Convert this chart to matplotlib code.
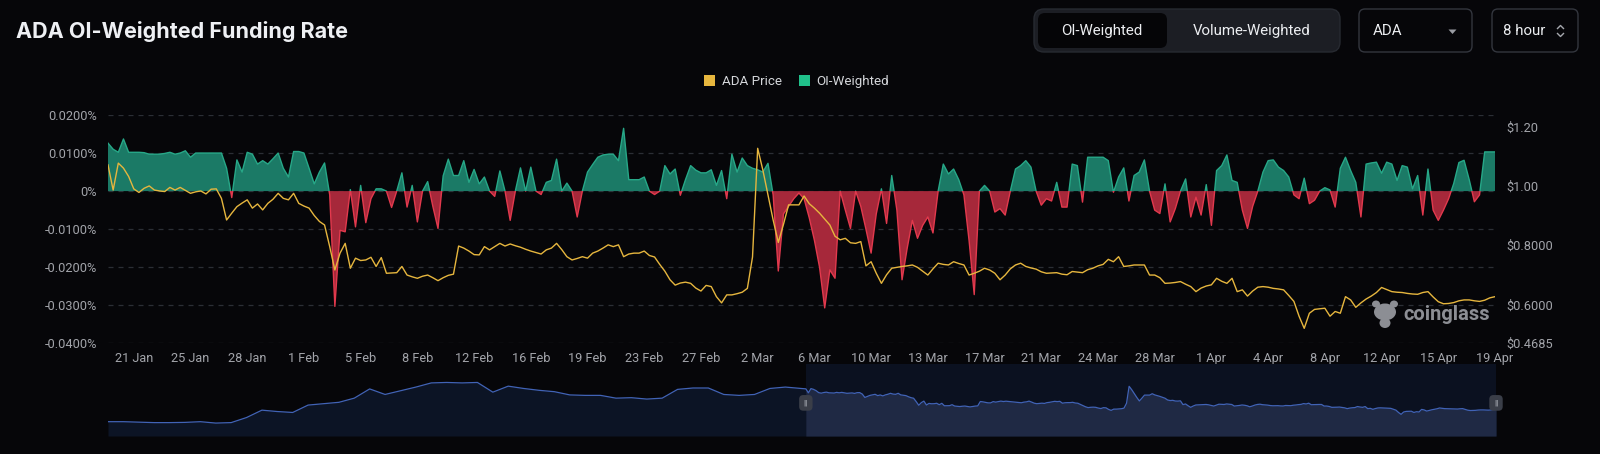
import matplotlib
matplotlib.use('Agg')
import matplotlib.pyplot as plt
from matplotlib.patches import Patch, FancyBboxPatch, Rectangle, Ellipse, Polygon
from matplotlib.lines import Line2D
from matplotlib.transforms import blended_transform_factory
import numpy as np
import pandas as pd

plt.rcParams['font.family'] = ['Roboto', 'DejaVu Sans']

# ---- data (8h funding, OI-weighted, in %; ADA price in $) ----
funding = [
    0.0126, 0.0110, 0.0102, 0.0137, 0.0102, 0.0102, 0.0102, 0.0101, 0.0097, 0.0097,
    0.0097, 0.0099, 0.0102, 0.0097, 0.0100, 0.0106, 0.0089, 0.0100, 0.0100, 0.0100,
    0.0100, 0.0100, 0.0100, 0.0060, -0.0017, 0.0082, 0.0050, 0.0102, 0.0097, 0.0071,
    0.0080, 0.0071, 0.0085, 0.0100, 0.0060, 0.0037, 0.0104, 0.0104, 0.0100, 0.0060,
    0.0019, 0.0050, 0.0074, -0.0010, -0.0303, -0.0103, -0.0107, 0.0004, -0.0094, 0.0015,
    -0.0083, -0.0020, 0.0006, 0.0006, 0.0000, -0.0043, 0.0000, 0.0048, -0.0042, 0.0015,
    -0.0081, 0.0000, 0.0025, -0.0040, -0.0098, 0.0040, 0.0084, 0.0041, 0.0041, 0.0080,
    0.0023, 0.0057, 0.0019, 0.0037, 0.0000, -0.0014, 0.0053, 0.0000, -0.0077, 0.0000,
    0.0061, 0.0000, 0.0063, 0.0000, -0.0009, 0.0023, 0.0028, 0.0084, 0.0000, 0.0021,
    0.0000, -0.0068, 0.0000, 0.0050, 0.0070, 0.0089, 0.0095, 0.0097, 0.0097, 0.0080,
    0.0165, 0.0030, 0.0030, 0.0030, 0.0037, 0.0000, -0.0009, 0.0000, 0.0067, 0.0045,
    0.0058, -0.0011, 0.0030, 0.0067, 0.0055, 0.0048, 0.0048, 0.0056, 0.0015, 0.0054,
    -0.0020, 0.0097, 0.0050, 0.0087, 0.0067, 0.0060, 0.0056, 0.0050, 0.0073, -0.0010,
    -0.0210, -0.0060, -0.0040, -0.0020, -0.0005, -0.0020, -0.0070, -0.0129, -0.0200, -0.0307,
    -0.0207, -0.0229, 0.0000, -0.0050, -0.0098, 0.0000, -0.0040, -0.0100, -0.0163, -0.0060,
    0.0006, -0.0085, 0.0041, -0.0050, -0.0233, -0.0150, -0.0077, -0.0124, -0.0090, -0.0068,
    -0.0110, 0.0000, 0.0071, 0.0045, 0.0058, 0.0030, -0.0010, -0.0130, -0.0272, 0.0000,
    0.0015, 0.0000, -0.0055, -0.0046, -0.0063, 0.0000, 0.0058, 0.0067, 0.0080, 0.0063,
    0.0000, -0.0037, -0.0020, -0.0026, 0.0023, -0.0042, -0.0042, 0.0071, 0.0067, -0.0029,
    0.0089, 0.0089, 0.0089, 0.0089, 0.0080, -0.0003, 0.0037, 0.0061, -0.0026, 0.0041,
    0.0050, 0.0082, 0.0000, -0.0050, -0.0059, 0.0019, -0.0081, -0.0046, 0.0000, 0.0032,
    -0.0068, -0.0016, -0.0063, 0.0017, -0.0090, 0.0054, 0.0067, 0.0095, 0.0028, 0.0023,
    -0.0050, -0.0098, -0.0040, 0.0000, 0.0050, 0.0080, 0.0082, 0.0063, 0.0054, 0.0037,
    -0.0010, -0.0020, 0.0034, -0.0033, -0.0024, 0.0000, 0.0009, 0.0003, -0.0042, 0.0060,
    0.0089, 0.0054, 0.0023, -0.0068, 0.0071, 0.0074, 0.0076, 0.0047, 0.0076, 0.0071,
    0.0028, 0.0067, 0.0063, 0.0006, 0.0041, -0.0063, 0.0058, -0.0050, -0.0077, -0.0050,
    -0.0020, 0.0020, 0.0075, 0.0081, 0.0030, -0.0028, -0.0010, 0.0103, 0.0103, 0.0103,
]

price = [
    1.071, 0.986, 1.077, 1.060, 1.032, 0.990, 0.978, 0.992, 1.000, 0.986,
    0.983, 0.981, 0.995, 0.986, 0.995, 0.985, 0.975, 0.980, 0.983, 0.973,
    0.989, 0.990, 0.958, 0.885, 0.908, 0.930, 0.942, 0.953, 0.925, 0.939,
    0.919, 0.941, 0.955, 0.975, 0.958, 0.953, 0.975, 0.941, 0.932, 0.925,
    0.900, 0.880, 0.868, 0.795, 0.716, 0.773, 0.806, 0.722, 0.756, 0.748,
    0.750, 0.759, 0.728, 0.758, 0.705, 0.706, 0.707, 0.728, 0.699, 0.693,
    0.688, 0.695, 0.699, 0.690, 0.680, 0.690, 0.698, 0.702, 0.797, 0.790,
    0.780, 0.768, 0.767, 0.795, 0.784, 0.795, 0.806, 0.797, 0.804, 0.798,
    0.793, 0.786, 0.780, 0.775, 0.770, 0.784, 0.790, 0.806, 0.785, 0.761,
    0.750, 0.755, 0.761, 0.756, 0.773, 0.780, 0.790, 0.801, 0.795, 0.801,
    0.761, 0.770, 0.773, 0.773, 0.780, 0.765, 0.760, 0.735, 0.712, 0.683,
    0.665, 0.672, 0.675, 0.671, 0.655, 0.645, 0.664, 0.660, 0.626, 0.605,
    0.632, 0.632, 0.636, 0.641, 0.654, 0.760, 1.127, 1.054, 0.970, 0.885,
    0.809, 0.870, 0.936, 0.936, 0.936, 0.966, 0.940, 0.925, 0.908, 0.888,
    0.868, 0.830, 0.818, 0.823, 0.808, 0.806, 0.812, 0.730, 0.744, 0.705,
    0.671, 0.700, 0.722, 0.725, 0.728, 0.730, 0.733, 0.725, 0.712, 0.699,
    0.720, 0.739, 0.735, 0.733, 0.744, 0.738, 0.733, 0.699, 0.705, 0.712,
    0.722, 0.716, 0.705, 0.683, 0.699, 0.720, 0.733, 0.739, 0.728, 0.723,
    0.719, 0.710, 0.705, 0.706, 0.707, 0.702, 0.700, 0.711, 0.709, 0.707,
    0.717, 0.722, 0.730, 0.735, 0.752, 0.744, 0.761, 0.728, 0.730, 0.733,
    0.733, 0.733, 0.699, 0.699, 0.690, 0.671, 0.672, 0.674, 0.677, 0.668,
    0.660, 0.643, 0.655, 0.662, 0.666, 0.688, 0.678, 0.671, 0.688, 0.643,
    0.649, 0.628, 0.645, 0.658, 0.660, 0.658, 0.654, 0.652, 0.649, 0.630,
    0.610, 0.560, 0.519, 0.570, 0.583, 0.585, 0.587, 0.560, 0.576, 0.570,
    0.626, 0.615, 0.590, 0.605, 0.618, 0.628, 0.640, 0.657, 0.650, 0.643,
    0.641, 0.640, 0.637, 0.635, 0.634, 0.640, 0.643, 0.625, 0.609, 0.602,
    0.603, 0.606, 0.612, 0.615, 0.615, 0.612, 0.610, 0.614, 0.622, 0.626,
]

# price history shown in the range navigator before the selected window (every 2 days)
nav_hist = [
    0.36, 0.36, 0.35, 0.34, 0.34, 0.345, 0.36, 0.33, 0.34, 0.45,
    0.61, 0.58, 0.56, 0.72, 0.75, 0.78, 0.87, 1.07, 0.95, 1.03,
    1.11, 1.20, 1.21, 1.20, 1.21, 1.00, 1.13, 1.08, 1.04, 1.01,
    0.94, 0.93, 0.93, 0.87, 0.88, 0.85, 0.87, 1.06, 1.09, 1.09,
    0.95, 0.93, 0.95, 1.08, 1.11,
]

left_ticks = [-0.04, -0.03, -0.02, -0.01, 0.0, 0.01, 0.02]
left_labels = ['-0.0400%', '-0.0300%', '-0.0200%', '-0.0100%', '0%', '0.0100%', '0.0200%']
right_ticks = [0.4685, 0.6, 0.8, 1.0, 1.2]
right_labels = ['$0.4685', '$0.6000', '$0.8000', '$1.00', '$1.20']

dates = pd.date_range('2025-01-19 16:00', periods=len(funding), freq='8h')
nav_dates = pd.date_range('2024-10-21', periods=len(nav_hist), freq='2D')
tick_dates = pd.date_range('2025-01-21 08:00', periods=25, freq='88h')
tick_labels = [f'{d.day} {d:%b}' for d in tick_dates]

BG = '#060609'
GRID = '#2b2e35'
TXT = '#a2a4aa'
YELLOW = '#e6b63e'
GREEN_FILL = '#1b7a66'
GREEN_EDGE = '#27a888'
RED_FILL = '#a6283a'
RED_EDGE = '#e2394d'
GREEN_LEG = '#20c08a'

W, H = 1600, 454


def frac(x0, y0, x1, y1):
    return [x0 / W, 1 - y1 / H, (x1 - x0) / W, (y1 - y0) / H]


fig = plt.figure(figsize=(W / 100, H / 100), dpi=100, facecolor=BG)
px = fig.dpi_scale_trans  # inches, 1 inch = 100 px


def box(x0, y0, x1, y1, fc, ec='none', r=6, lw=1.0):
    p = FancyBboxPatch((x0 / 100, (H - y1) / 100), (x1 - x0) / 100, (y1 - y0) / 100,
                       boxstyle=f'round,pad=0,rounding_size={r / 100}',
                       fc=fc, ec=ec, lw=lw, transform=px)
    fig.patches.append(p)


def label(x, y, s, **kw):
    fig.text(x / 100, (H - y) / 100, s, transform=px, **kw)


# ---- main chart ----
ax = fig.add_axes(frac(108, 115, 1495, 343.3))
ax.set_facecolor(BG)
f = np.array(funding)
ax.fill_between(dates, f, 0, where=f >= 0, interpolate=True, color=GREEN_FILL, lw=0, zorder=2)
ax.fill_between(dates, f, 0, where=f <= 0, interpolate=True, color=RED_FILL, lw=0, zorder=2)
ax.set_xlim(dates[0], dates[-1])
ax.set_ylim(-0.04, 0.02)

clip_t = blended_transform_factory(ax.transAxes, ax.transData)
up, = ax.plot(dates, f, color=GREEN_EDGE, lw=1.0, zorder=3)
up.set_clip_path(Rectangle((0, 0), 1, 1, transform=clip_t))
dn, = ax.plot(dates, f, color=RED_EDGE, lw=1.0, zorder=3)
dn.set_clip_path(Rectangle((0, -1), 1, 1, transform=clip_t))

ax.set_yticks(left_ticks)
ax.set_yticklabels(left_labels)
ax.set_xticks(tick_dates)
ax.set_xticklabels(tick_labels)
ax.set_axisbelow(True)
ax.grid(axis='y', color=GRID, ls=(0, (4, 4)), lw=0.9)
ax.tick_params(axis='y', length=0, pad=7.8, labelsize=9.2, labelcolor=TXT)
ax.tick_params(axis='x', length=0, pad=6, labelsize=9.2, labelcolor=TXT)
for s in ax.spines.values():
    s.set_visible(False)

ax2 = ax.twinx()
ax2.plot(dates, price, color=YELLOW, lw=1.0, zorder=4)
ax2.set_ylim(0.4685, 1.2395)
ax2.set_yticks(right_ticks)
ax2.set_yticklabels(right_labels)
ax2.tick_params(axis='y', length=0, pad=8.5, labelsize=9.2, labelcolor=TXT)
for s in ax2.spines.values():
    s.set_visible(False)

# ---- range navigator ----
nav = fig.add_axes(frac(108, 364, 1496, 436))
nav.set_facecolor(BG)
all_d = nav_dates.append(dates)
all_p = nav_hist + price
nav.axvspan(dates[0], dates[-1], color='#0b1120', lw=0, zorder=0)
nav.fill_between(all_d, all_p, 0.05, color='#0c1425', lw=0, zorder=1)
nav.fill_between(dates, price, 0.05, color='#1f2944', lw=0, zorder=2)
nav.plot(all_d, all_p, color='#4163b6', lw=0.9, zorder=3)
nav.set_xlim(nav_dates[0], dates[-1])
nav.set_ylim(0.05, 1.61)
nav.set_xticks([])
nav.set_yticks([])
for s in nav.spines.values():
    s.set_visible(False)
hnd_t = blended_transform_factory(nav.transData, nav.transAxes)
for d in (dates[0], dates[-1]):
    nav.text(d, 0.46, '||', transform=hnd_t, ha='center', va='center', fontsize=6,
             color='#c9ccd3', zorder=5, clip_on=False,
             bbox=dict(boxstyle='round,pad=0.55,rounding_size=0.5', fc='#3a3e48', ec='none'))

# ---- legend ----
fig.legend(handles=[Patch(fc=YELLOW, label='ADA Price'), Patch(fc=GREEN_LEG, label='OI-Weighted')],
           loc='center', bbox_to_anchor=(0.498, 0.820), ncol=2, frameon=False,
           handlelength=0.8, handleheight=0.8, handletextpad=0.5, columnspacing=1.3,
           fontsize=9.6, labelcolor='#d4d6da')

# ---- header ----
fig.text(16 / W, 1 - 31 / H, 'ADA OI-Weighted Funding Rate', family=['Inter', 'DejaVu Sans'],
         fontsize=15.5, fontweight='bold', color='#eef0f4', va='center', ha='left')

box(1034, 9, 1340, 52, fc='#1c1e24', ec='#272a31', r=10)
box(1038, 13, 1167, 48, fc='#050507', r=7)
label(1102, 31, 'OI-Weighted', ha='center', va='center', fontsize=10.8, color='#eceef1')
label(1252, 31, 'Volume-Weighted', ha='center', va='center', fontsize=10.8, color='#eceef1')

box(1359, 9, 1472, 52, fc=BG, ec='#33363e', r=6)
label(1373, 31, 'ADA', ha='left', va='center', fontsize=10.8, color='#eceef1')
fig.patches.append(Polygon([(1448.5 / 100, (H - 29.5) / 100), (1456.5 / 100, (H - 29.5) / 100),
                            (1452.5 / 100, (H - 34) / 100)], closed=True, fc='#9a9ca3', ec='none',
                           transform=px))

box(1492, 9, 1578, 52, fc=BG, ec='#33363e', r=6)
label(1503, 31, '8 hour', ha='left', va='center', fontsize=10.8, color='#eceef1')
for ys in ((28.5, 25.5), (33.5, 36.5)):
    fig.lines.append(Line2D([1557.5 / 100, 1560.5 / 100, 1563.5 / 100],
                            [(H - ys[0]) / 100, (H - ys[1]) / 100, (H - ys[0]) / 100],
                            color='#a6a8ae', lw=1.0, transform=px))

# ---- watermark ----
WM = '#8c8e94'
for cx, cy, w, h in ((1385, 312, 22, 17), (1376, 304, 8, 7), (1394, 304, 8, 7), (1385, 323, 11, 10)):
    fig.patches.append(Ellipse((cx / 100, (H - cy) / 100), w / 100, h / 100, fc=WM, ec='none',
                               transform=px))
label(1403, 314, 'coinglass', ha='left', va='center', fontsize=14.5, fontweight='bold', color=WM)

fig.savefig('out.png', dpi=100, facecolor=BG)
